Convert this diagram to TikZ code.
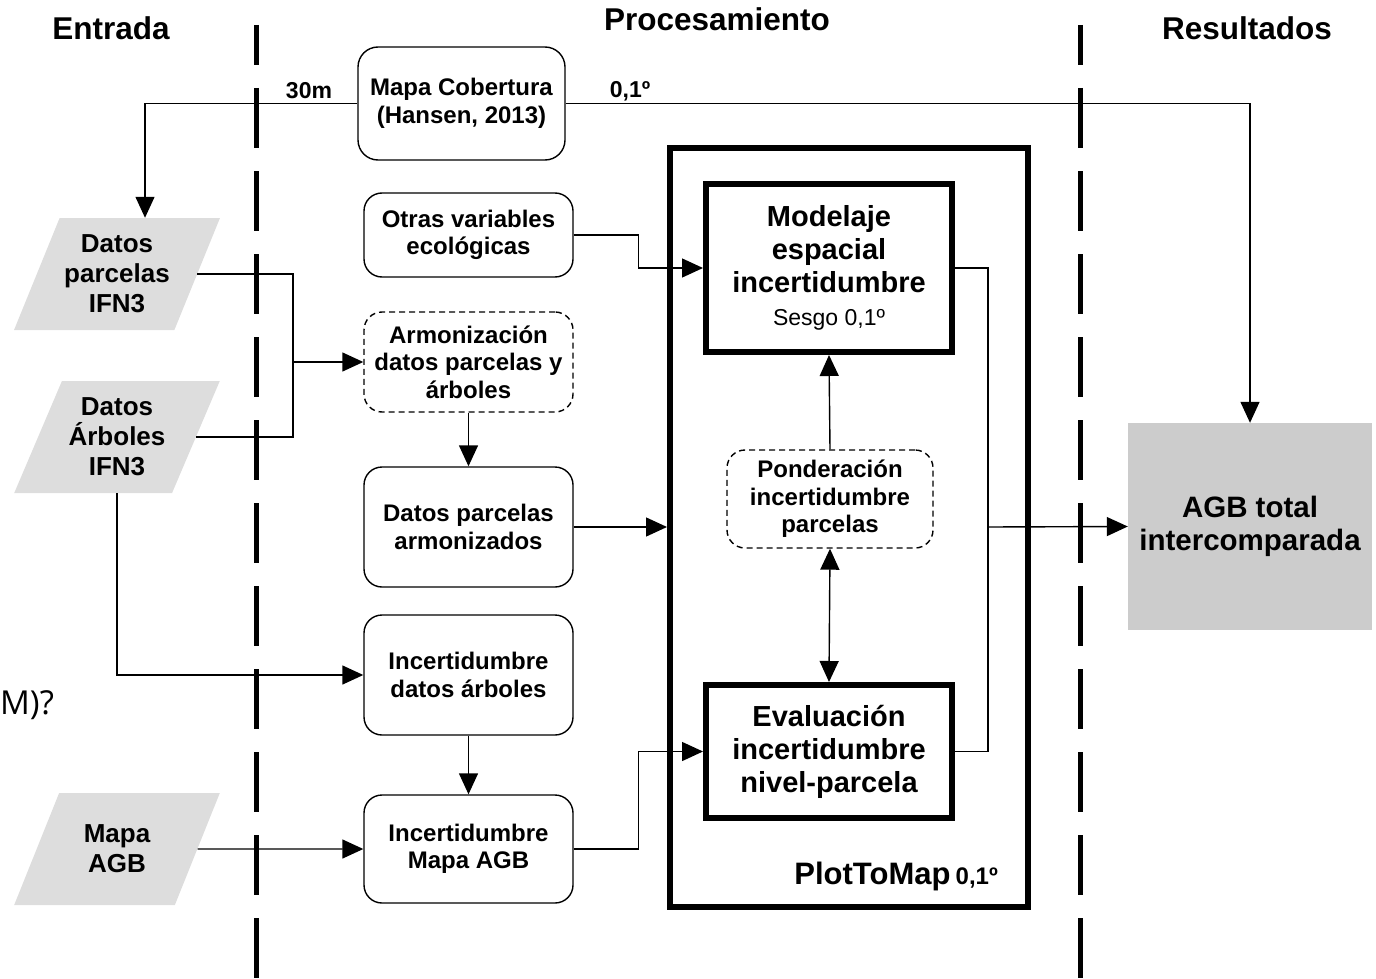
\documentclass[tikz,border=0pt]{standalone}
\usepackage{fontspec}
\setmainfont{Liberation Sans}
\newfontfamily\opensans{Open Sans}
\usetikzlibrary{arrows.meta,shapes.geometric,calc}
\definecolor{pgray}{HTML}{DDDDDD}
\definecolor{agbgray}{HTML}{CCCCCC}
\begin{document}
\begin{tikzpicture}[x=1pt,y=-1pt,
  >={Triangle[length=21pt,width=19pt]},
  conn/.style={line width=1.4pt,->},
  plain/.style={line width=1.4pt},
  txt/.style={font=\fontsize{24}{27.5}\selectfont\bfseries, align=center},
  rbox/.style={txt, draw, line width=1.4pt, rounded corners=18pt, minimum width=209pt, inner sep=0pt},
  dbox/.style={rbox, dash pattern=on 6pt off 4pt},
  tbox/.style={draw, line width=6pt, minimum width=246pt, align=center, inner sep=0pt, font=\fontsize{29}{33}\selectfont\bfseries},
  para/.style={trapezium, trapezium left angle=61.8, trapezium right angle=118.2, trapezium stretches=true, fill=pgray, minimum width=206pt, minimum height=112pt, inner sep=0pt, font=\fontsize{26}{30}\selectfont\bfseries, align=center},
  title/.style={font=\fontsize{31.5}{36}\selectfont\bfseries},
  small/.style={font=\fontsize{23}{26}\selectfont\bfseries},
  lane/.style={line width=5pt, dash pattern=on 60pt off 23pt, dash phase=20pt}
]
\useasboundingbox (0,0) rectangle (1376,979);
% lanes
\draw[lane] (256,25) -- (256,990);
\draw[lane] (1080,25) -- (1080,990);
% titles
\node[title] (tin) at (111,28) {Entrada};
\node[title] (tpr) at (717,19) {Procesamiento};
\node[title] (tre) at (1247,28) {Resultados};
\node[font=\opensans\fontsize{33}{40}\selectfont, anchor=west, inner sep=0pt] (mq) at (0,705) {M)?};
% input parallelograms
\node[para] (dp) at (117,274) {Datos\\parcelas\\IFN3};
\node[para] (da) at (117,437) {Datos\\Árboles\\IFN3};
\node[para] (ma) at (117,849) {Mapa\\AGB};
% processing boxes
\node[rbox, minimum width=207pt, minimum height=113pt, rounded corners=20pt] (mc) at (461.5,103.5) {Mapa Cobertura\\(Hansen, 2013)};
\node[rbox, minimum height=84pt] (ov) at (468.5,235) {Otras variables\\ecológicas};
\node[dbox, minimum height=100pt] (arm) at (468.5,362) {Armonización\\datos parcelas y\\árboles};
\node[rbox, minimum height=120pt] (dpa) at (468.5,527) {Datos parcelas\\armonizados};
\node[rbox, minimum height=120pt] (ida) at (468.5,675) {Incertidumbre\\datos árboles};
\node[rbox, minimum height=108pt] (ima) at (468.5,849) {Incertidumbre\\Mapa AGB};
% PlotToMap box
\node[draw, line width=6pt, minimum width=358pt, minimum height=759pt, inner sep=0pt] (big) at (849,527.5) {};
\node[anchor=base east, inner sep=0pt] (ptm) at (998,884) {\fontsize{31}{36}\selectfont\bfseries PlotToMap\,\fontsize{24}{28}\selectfont 0,1º};
\node[tbox, minimum height=168pt] (mod) at (829,268) {Modelaje\\espacial\\incertidumbre\\\fontsize{23}{27}\selectfont\mdseries Sesgo 0,1º};
\node[dbox, minimum width=206pt, minimum height=98pt] (pond) at (830,499) {Ponderación\\incertidumbre\\parcelas};
\node[tbox, minimum height=133pt] (ev) at (829,751.5) {Evaluación\\incertidumbre\\nivel-parcela};
% result
\node[fill=agbgray, minimum width=244pt, minimum height=207pt, font=\fontsize{29.5}{33}\selectfont\bfseries, align=center] (agb) at (1250,526.5) {AGB total\\intercomparada};
% labels
\node[small] (l30) at (309,91) {30m};
\node[small] (l01) at (630,91) {0,1º};
% connectors
\coordinate (j) at (293,362);
\coordinate (k) at (988,527);
\draw[conn] (mc.west) -| ([xshift=28pt]dp.north);
\draw[conn] (mc.east) -| (agb.north);
\draw[plain] (dp.east) -| (j);
\draw[plain] (da.east) -| (j);
\draw[conn] (j) -- (arm.west);
\draw[conn] (arm.south) -- (dpa.north);
\draw[conn] (ov.east) -- ++(65,0) |- (mod.west);
\draw[conn] (dpa.east) -- (dpa.east -| big.west);
\draw[conn] (da.center |- da.south) |- (ida.west);
\draw[conn] (ida.south) -- (ima.north);
\draw[conn] (ma.east) -- (ima.west);
\draw[conn] (ima.east) -- ++(65,0) |- (ev.west);
\draw[conn] (pond.north) -- (mod.south);
\draw[line width=1.4pt,<->] (pond.south) -- (ev.north);
\draw[plain] (mod.east) -| (k);
\draw[plain] (ev.east) -| (k);
\draw[conn] (k) -- (agb.west);
\end{tikzpicture}
\end{document}
